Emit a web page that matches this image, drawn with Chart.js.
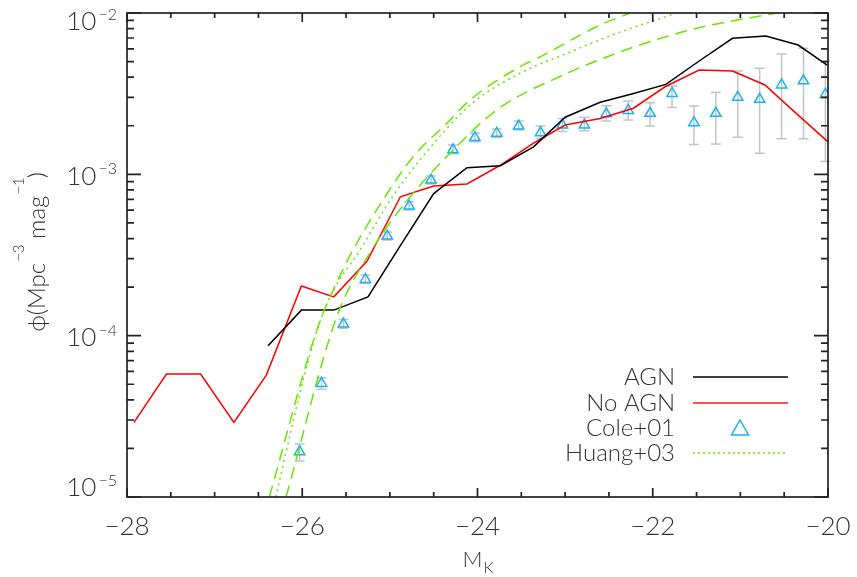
<!DOCTYPE html>
<html>
<head>
<meta charset="utf-8">
<script src="https://cdn.jsdelivr.net/npm/chart.js@4.4.1/dist/chart.umd.min.js"></script>
<style>
  html, body { margin: 0; padding: 0; background: #fff; }
  #c { display: block; }
</style>
</head>
<body>
<canvas id="c" width="857" height="577"></canvas>
<script>
// model luminosity functions
const agnMag = [-26.39, -26.01, -25.64, -25.25, -24.875, -24.5, -24.12, -23.74, -23.36, -23.0, -22.6, -22.24, -21.85, -21.47, -21.09, -20.71, -20.34, -20.01];
const agnPhi = [8.65e-5, 1.44e-4, 1.44e-4, 1.74e-4, 3.65e-4, 7.6e-4, 1.10e-3, 1.13e-3, 1.48e-3, 2.26e-3, 2.8e-3, 3.15e-3, 3.61e-3, 5.04e-3, 6.97e-3, 7.2e-3, 6.33e-3, 4.76e-3];

const noAgnMag = [-27.92, -27.55, -27.16, -26.78, -26.41, -26.01, -25.64, -25.26, -24.88, -24.5, -24.12, -23.75, -23.36, -23.0, -22.6, -22.22, -21.86, -21.47, -21.09, -20.72, -20.36, -20.0];
const noAgnPhi = [2.9e-5, 5.78e-5, 5.78e-5, 2.9e-5, 5.7e-5, 2.03e-4, 1.74e-4, 2.9e-4, 7.26e-4, 8.46e-4, 8.71e-4, 1.13e-3, 1.56e-3, 2.02e-3, 2.22e-3, 2.57e-3, 3.49e-3, 4.43e-3, 4.37e-3, 3.58e-3, 2.38e-3, 1.59e-3];

// Cole+01 data with error bars
const coleMag = [-26.03, -25.78, -25.53, -25.28, -25.03, -24.78, -24.53, -24.28, -24.03, -23.78, -23.53, -23.28, -23.03, -22.78, -22.53, -22.28, -22.03, -21.78, -21.53, -21.28, -21.03, -20.78, -20.53, -20.28, -20.03];
const colePhi = [1.91e-5, 5.06e-5, 1.18e-4, 2.23e-4, 4.14e-4, 6.36e-4, 9.22e-4, 1.42e-3, 1.69e-3, 1.80e-3, 1.99e-3, 1.81e-3, 2.02e-3, 2.02e-3, 2.37e-3, 2.49e-3, 2.39e-3, 3.17e-3, 2.09e-3, 2.39e-3, 3.00e-3, 2.92e-3, 3.58e-3, 3.80e-3, 3.13e-3];
const coleHi = [2.13e-5, 5.48e-5, 1.26e-4, 2.38e-4, 4.39e-4, 6.76e-4, 9.76e-4, 1.52e-3, 1.80e-3, 1.91e-3, 2.14e-3, 1.99e-3, 2.22e-3, 2.26e-3, 2.66e-3, 2.85e-3, 2.78e-3, 3.53e-3, 2.65e-3, 3.22e-3, 4.37e-3, 4.54e-3, 5.57e-3, 6.04e-3, 5.04e-3];
const coleLo = [1.67e-5, 4.65e-5, 1.11e-4, 2.11e-4, 3.92e-4, 6.01e-4, 8.71e-4, 1.34e-3, 1.59e-3, 1.69e-3, 1.88e-3, 1.67e-3, 1.84e-3, 1.86e-3, 2.14e-3, 2.17e-3, 1.99e-3, 2.60e-3, 1.53e-3, 1.54e-3, 1.70e-3, 1.35e-3, 1.66e-3, 1.66e-3, 1.20e-3];

// Huang+03 fit and its bounds
const huangMag = [-26.303, -25.93, -25.72, -25.34, -24.97, -24.655, -24.084, -23.514, -22.943, -22.372, -21.725];
const huangPhi = [1.0e-5, 7.06e-5, 1.58e-4, 3.40e-4, 7.26e-4, 1.23e-3, 2.69e-3, 4.23e-3, 5.73e-3, 7.62e-3, 1.0e-2];
const huangUpMag = [-26.376, -25.834, -25.663, -25.42, -25.055, -24.732, -24.35, -24.085, -23.514, -23.285, -22.60, -22.258];
const huangUpPhi = [1.0e-5, 1.08e-4, 1.83e-4, 3.40e-4, 7.26e-4, 1.29e-3, 2.07e-3, 2.89e-3, 4.65e-3, 5.35e-3, 8.43e-3, 1.0e-2];
const huangLoMag = [-26.185, -25.606, -25.207, -24.826, -24.35, -23.779, -23.019, -22.258, -21.497, -20.583];
const huangLoPhi = [1.0e-5, 1.31e-4, 3.40e-4, 6.64e-4, 1.29e-3, 2.51e-3, 4.13e-3, 6.04e-3, 8.04e-3, 1.0e-2];

// axes
const xTicks = [-28, -26, -24, -22, -20];
const yTicks = [1e-5, 1e-4, 1e-3, 1e-2];
const yTickExp = ['\u22125', '\u22124', '\u22123', '\u22122'];
const legendLabels = ['AGN', 'No AGN', 'Cole+01', 'Huang+03'];

const FONT = "'Lato', 'DejaVu Sans', sans-serif";
const GREEN = '#66e600';
const BLUE = '#1ab2f2';

const pts = (xs, ys) => xs.map((x, i) => ({ x, y: ys[i] }));

const frame = {
  id: 'frame',
  beforeDatasetsDraw(chart) {
    const { ctx, scales: { x, y } } = chart;
    ctx.save();
    ctx.strokeStyle = '#c4c4c4';
    ctx.lineWidth = 1.5;
    coleMag.forEach((m, i) => {
      const px = x.getPixelForValue(m);
      const top = y.getPixelForValue(coleHi[i]);
      const bot = y.getPixelForValue(coleLo[i]);
      ctx.beginPath();
      ctx.moveTo(px, top); ctx.lineTo(px, bot);
      ctx.moveTo(px - 5, top); ctx.lineTo(px + 5, top);
      ctx.moveTo(px - 5, bot); ctx.lineTo(px + 5, bot);
      ctx.stroke();
    });
    ctx.restore();
  },
  afterDraw(chart) {
    const { ctx, chartArea: a, scales: { x, y } } = chart;
    ctx.save();
    ctx.strokeStyle = '#222';
    ctx.lineWidth = 1.7;
    ctx.strokeRect(a.left, a.top, a.right - a.left, a.bottom - a.top);

    // x ticks, every 0.5, major every 2
    ctx.beginPath();
    for (let v = -28; v <= -20; v += 0.5) {
      const px = x.getPixelForValue(v);
      const len = xTicks.includes(v) ? 9 : 5;
      ctx.moveTo(px, a.bottom); ctx.lineTo(px, a.bottom - len);
      ctx.moveTo(px, a.top); ctx.lineTo(px, a.top + len);
    }
    // y ticks, decades and 2..9
    for (let e = -5; e <= -2; e++) {
      for (let k = 1; k <= 9; k++) {
        const v = k * Math.pow(10, e);
        if (v > 1.0001e-2) break;
        const py = y.getPixelForValue(v);
        const len = k === 1 ? 14 : 7;
        ctx.moveTo(a.left, py); ctx.lineTo(a.left + len, py);
        ctx.moveTo(a.right, py); ctx.lineTo(a.right - len, py);
      }
    }
    ctx.stroke();

    ctx.fillStyle = '#333';
    // x tick labels
    ctx.font = '300 26px ' + FONT;
    ctx.textAlign = 'center';
    ctx.textBaseline = 'middle';
    xTicks.forEach(v => {
      ctx.fillText('\u2212' + Math.abs(v), x.getPixelForValue(v), a.bottom + 30);
    });

    // y tick labels 10^n
    yTicks.forEach((v, i) => {
      let py = y.getPixelForValue(v) + 2;
      if (i === 0) py -= 11;
      if (i === yTicks.length - 1) py += 7;
      ctx.textAlign = 'right';
      ctx.font = '300 16px ' + FONT;
      const right = a.left - 10;
      ctx.fillText(yTickExp[i], right, py - 7);
      const sw = ctx.measureText(yTickExp[i]).width;
      ctx.font = '300 26px ' + FONT;
      ctx.fillText('10', right - sw - 2, py);
    });

    // x title M_K
    ctx.textAlign = 'left';
    ctx.textBaseline = 'alphabetic';
    ctx.font = '300 22px ' + FONT;
    const mw = ctx.measureText('M').width;
    ctx.font = '300 16px ' + FONT;
    const kw = ctx.measureText('K').width;
    const cx = (a.left + a.right) / 2;
    ctx.font = '300 22px ' + FONT;
    ctx.fillText('M', cx - (mw + kw) / 2, 567);
    ctx.font = '300 16px ' + FONT;
    ctx.fillText('K', cx - (mw + kw) / 2 + mw + 1, 573);

    // y title
    const segs = [['\u03d5(Mpc', 0], ['\u22123', 1], [' mag', 0], ['\u22121', 1], [')', 0]];
    let total = 0;
    segs.forEach(s => { ctx.font = (s[1] ? '300 15px ' : '300 24px ') + FONT; s.push(ctx.measureText(s[0]).width); total += s[2]; });
    ctx.translate(45, 252);
    ctx.rotate(-Math.PI / 2);
    let tx = -total / 2;
    segs.forEach(s => {
      ctx.font = (s[1] ? '300 15px ' : '300 24px ') + FONT;
      ctx.fillText(s[0], tx + (s[1] ? 1 : 0), s[1] ? -21 : 0);
      tx += s[2];
    });
    ctx.setTransform(1, 0, 0, 1, 0, 0);

    // legend
    const rows = [377, 403, 428, 453];
    ctx.font = '300 24px ' + FONT;
    ctx.textAlign = 'right';
    ctx.textBaseline = 'middle';
    legendLabels.forEach((t, i) => ctx.fillText(t, 675, rows[i]));
    ctx.lineWidth = 1.5;
    ctx.strokeStyle = '#000';
    ctx.beginPath(); ctx.moveTo(693, rows[0]); ctx.lineTo(788, rows[0]); ctx.stroke();
    ctx.strokeStyle = '#ff1a1a';
    ctx.beginPath(); ctx.moveTo(693, rows[1]); ctx.lineTo(788, rows[1]); ctx.stroke();
    ctx.strokeStyle = BLUE;
    ctx.beginPath();
    ctx.moveTo(740, rows[2] - 8); ctx.lineTo(748.5, rows[2] + 7); ctx.lineTo(731.5, rows[2] + 7); ctx.closePath();
    ctx.stroke();
    ctx.strokeStyle = GREEN;
    ctx.setLineDash([2, 3]);
    ctx.beginPath(); ctx.moveTo(693, rows[3]); ctx.lineTo(788, rows[3]); ctx.stroke();
    ctx.restore();
  }
};

const curve = { borderColor: GREEN, borderWidth: 1.5, pointRadius: 0, cubicInterpolationMode: 'monotone' };

new Chart(document.getElementById('c'), {
  type: 'line',
  data: {
    datasets: [
      { ...curve, data: pts(huangUpMag, huangUpPhi), borderDash: [12, 7] },
      { ...curve, data: pts(huangMag, huangPhi), borderDash: [2, 4] },
      { ...curve, data: pts(huangLoMag, huangLoPhi), borderDash: [12, 7] },
      { data: pts(agnMag, agnPhi), borderColor: '#000', borderWidth: 1.5, pointRadius: 0 },
      { data: pts(noAgnMag, noAgnPhi), borderColor: '#ff0000', borderWidth: 1.5, pointRadius: 0 },
      { data: pts(coleMag, colePhi), showLine: false, pointStyle: 'triangle', pointRadius: 6,
        pointBorderWidth: 1.5, pointBorderColor: BLUE, pointBackgroundColor: 'rgba(0,0,0,0)' }
    ]
  },
  options: {
    responsive: false,
    animation: false,
    devicePixelRatio: 1,
    layout: { padding: { left: 127, right: 29, top: 13, bottom: 80 } },
    plugins: { legend: { display: false }, tooltip: { enabled: false } },
    scales: {
      x: { type: 'linear', min: -28, max: -20, display: false },
      y: { type: 'logarithmic', min: 1e-5, max: 1e-2, display: false }
    }
  },
  plugins: [frame]
});
</script>
</body>
</html>
